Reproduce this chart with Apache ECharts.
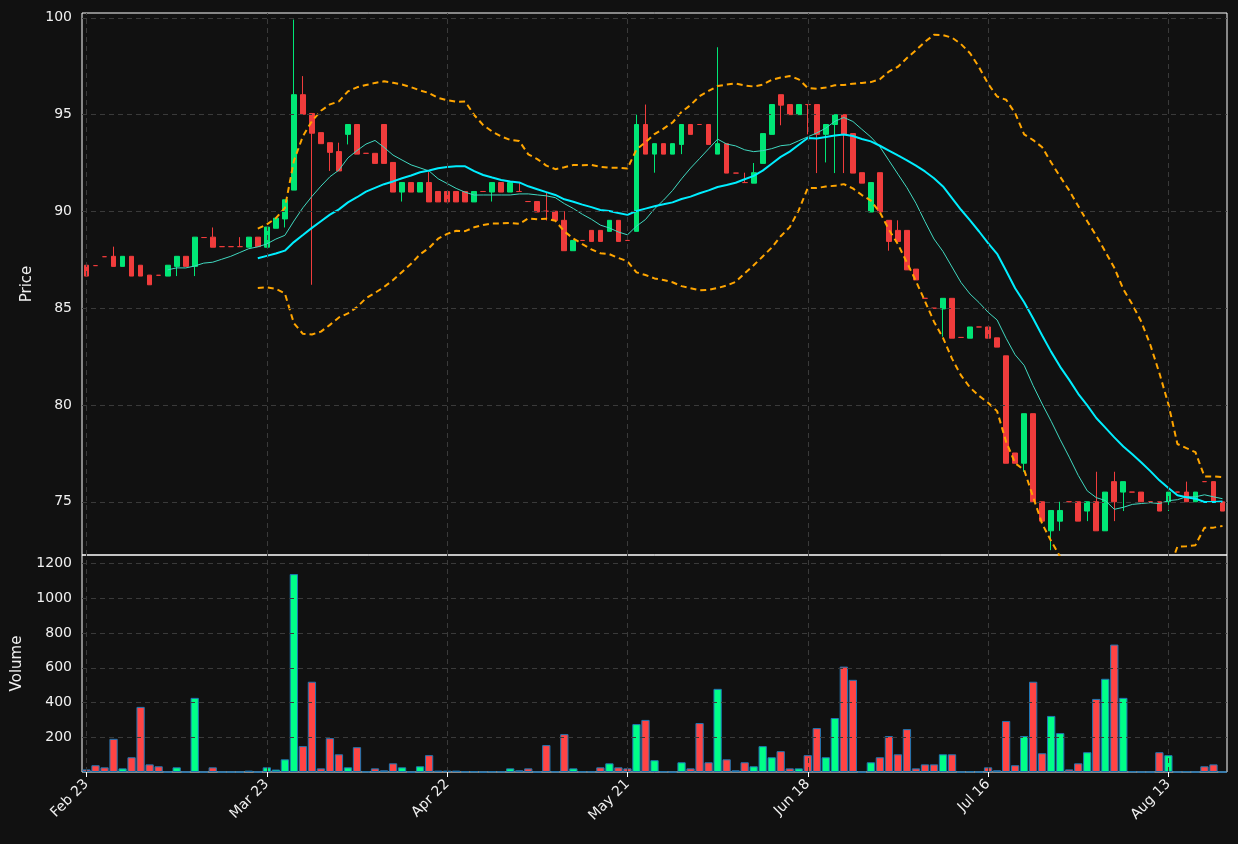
<!DOCTYPE html>
<html style="height: 100%">
<head>
  <meta charset="utf-8">
  <title>Candles with volume</title>
  <script src="https://cdn.jsdelivr.net/npm/echarts@6/dist/echarts.min.js"></script>
</head>
<body style="margin: 0; height: 100%; background: #111111">
  <div id="main" style="width: 1238px; height: 844px"></div>
  <script>
    // x tick labels, one every 20 sessions
    const tickLabels = ['Feb 23', 'Mar 23', 'Apr 22', 'May 21', 'Jun 18', 'Jul 16', 'Aug 13'];

    const opens = [87.22,87.2,87.66,87.68,87.16,87.68,87.22,86.71,86.7,86.66,87.16,87.68,87.16,88.65,88.67,88.18,88.18,88.18,88.15,88.67,
      88.15,89.13,89.61,91.1,96.03,95.06,94.07,93.55,93.09,93.98,94.49,93.0,93.0,94.49,92.53,91.0,91.49,91.0,91.49,91.03,
      91.03,91.03,91.03,90.49,91.03,91.0,91.49,91.0,91.03,90.51,90.51,90.01,90.01,89.54,87.97,88.5,89.02,89.02,88.97,89.54,
      88.5,88.97,94.49,92.96,93.5,92.96,93.46,94.49,94.49,94.49,92.96,93.5,91.98,91.49,91.46,92.48,93.98,96.03,95.52,95.0,
      95.52,95.52,93.98,94.49,95.0,94.02,92.0,89.97,92.0,89.54,89.02,89.02,87.02,85.51,85.0,84.96,85.51,83.49,83.45,84.03,
      84.03,83.47,82.54,77.52,76.99,79.55,75.0,73.5,74.0,75.0,75.0,74.52,75.0,73.5,76.04,75.5,75.5,75.5,75.0,75.0,
      75.0,75.5,75.5,75.0,76.04,76.04,75.0];
    const closes = [86.66,87.2,87.66,87.16,87.68,86.66,86.66,86.21,86.7,87.22,87.68,87.16,88.67,88.65,88.15,88.18,88.18,88.18,88.67,88.18,
      89.19,89.65,90.6,96.03,95.02,94.04,93.5,93.05,92.09,94.49,92.96,93.0,92.48,92.48,91.0,91.49,91.0,91.49,90.49,90.49,
      90.49,90.49,90.49,91.03,91.03,91.49,91.0,91.49,91.03,90.51,89.97,90.01,89.53,87.97,88.5,88.5,88.45,88.45,89.54,88.45,
      88.5,94.49,92.96,93.5,92.96,93.5,94.49,93.98,94.49,93.46,93.5,91.98,91.98,91.49,92.0,94.02,95.52,95.49,95.0,95.52,
      95.52,93.98,94.49,95.0,93.98,91.98,91.46,91.49,89.97,88.45,88.45,86.98,86.46,85.51,85.0,85.51,83.45,83.49,84.03,84.03,
      83.45,82.99,76.99,76.99,79.55,75.0,74.0,74.55,74.55,75.0,74.0,75.0,73.5,75.5,75.0,76.04,75.5,75.0,75.0,74.52,
      75.5,75.5,75.0,75.5,76.04,75.0,74.52];
    const highs = [87.22,87.2,87.66,88.18,87.68,87.68,87.22,86.71,86.7,87.22,87.68,87.68,88.67,88.65,89.17,88.18,88.18,88.67,88.67,88.67,
      89.19,89.65,90.6,99.91,96.99,95.06,94.07,93.55,93.55,94.49,94.49,93.0,93.0,94.49,92.53,91.49,91.49,91.49,92.03,91.03,
      91.03,91.03,91.03,91.03,91.03,91.49,91.49,91.49,91.49,90.51,90.51,91.0,90.01,90.01,88.5,88.5,89.02,89.02,89.54,89.54,
      88.5,95.0,95.52,93.5,93.5,93.5,94.49,94.49,94.49,94.49,98.48,93.5,91.98,92.0,92.5,94.02,95.52,96.03,95.52,95.52,
      95.52,95.52,94.49,95.0,95.0,94.02,92.0,91.49,92.0,89.54,89.54,89.02,87.02,85.51,85.0,85.51,85.51,83.49,84.03,84.03,
      84.03,83.47,82.54,77.52,79.55,79.55,75.0,74.55,75.0,75.0,75.0,75.0,76.55,75.5,76.55,76.04,75.5,75.5,75.0,75.0,
      75.5,75.5,76.04,75.5,76.04,76.04,75.0];
    const lows = [86.66,87.2,87.66,87.16,87.16,86.66,86.66,86.21,86.7,86.66,86.66,87.16,86.66,88.65,88.15,88.18,88.18,88.18,88.15,88.18,
      88.15,89.13,89.17,91.1,95.02,86.21,93.5,92.09,92.09,93.46,92.96,93.0,92.48,92.48,91.0,90.51,91.0,91.0,90.49,90.49,
      90.49,90.49,90.49,90.49,91.03,90.51,91.0,91.0,91.03,90.51,89.97,89.53,89.53,87.97,87.97,88.5,88.45,88.45,88.97,88.45,
      88.5,88.97,92.96,92.0,92.96,92.96,92.96,93.98,94.49,93.46,92.96,91.98,91.98,91.49,91.46,92.48,93.98,94.45,95.0,95.0,
      93.98,91.98,92.53,91.98,91.98,91.98,91.46,89.97,89.97,87.97,88.45,86.98,86.46,85.51,85.0,83.53,83.45,83.49,83.45,84.03,
      83.45,82.99,76.99,76.99,76.55,75.0,74.0,72.5,73.5,75.0,74.0,74.0,73.5,73.5,74.0,74.52,75.5,75.0,75.0,74.52,
      74.52,75.5,75.0,75.0,76.04,75.0,74.52];
    const volumes = [15,39,27,191,21,85,375,44,33,0,27,0,427,0,27,0,0,0,8,0,
      27,14,73,1140,149,520,21,195,102,27,143,3,21,10,50,27,0,33,97,8,
      8,8,3,3,0,3,3,21,10,21,0,155,3,218,21,3,3,27,50,27,
      21,276,300,68,3,0,56,21,282,56,479,73,10,56,33,149,85,120,21,21,
      97,253,85,311,607,531,0,56,85,207,102,247,21,44,44,102,102,0,3,0,
      27,10,294,39,207,520,108,323,224,15,50,114,421,537,734,427,3,0,0,114,
      97,0,3,0,33,44,0];

    const UP = '#00e676', DOWN = '#f03c3c';
    const VUP = '#00ff88', VDOWN = '#ff4444';

    const cats = closes.map((_, i) => i);
    const isUp = i => closes[i] > opens[i];

    function sma(period) {
      return closes.map((_, i) => {
        if (i < period - 1) return '-';
        let s = 0;
        for (let k = i - period + 1; k <= i; k++) s += closes[k];
        return +(s / period).toFixed(3);
      });
    }
    function band(period, mult) {
      return closes.map((_, i) => {
        if (i < period - 1) return '-';
        const w = closes.slice(i - period + 1, i + 1);
        const m = w.reduce((a, b) => a + b, 0) / period;
        const sd = Math.sqrt(w.reduce((a, b) => a + (b - m) * (b - m), 0) / (period - 1));
        return +(m + mult * sd).toFixed(3);
      });
    }

    const candleData = cats.map(i => {
      const c = isUp(i) ? UP : DOWN;
      return {
        value: [opens[i], closes[i], lows[i], highs[i]],
        itemStyle: { color: c, color0: c, borderColor: c, borderColor0: c }
      };
    });
    const volData = cats.map(i => ({
      value: volumes[i],
      itemStyle: { color: isUp(i) ? VUP : VDOWN }
    }));

    const gridLine = { color: '#3a3a3a', type: [5, 4], width: 1 };
    const vLines = tickLabels.map((_, k) => ({ xAxis: k * 20 }));
    const font = { color: '#f0f0f0', fontSize: 14, fontFamily: 'DejaVu Sans' };

    const chart = echarts.init(document.getElementById('main'));
    chart.setOption({
      backgroundColor: '#111111',
      animation: false,
      grid: [
        { left: 82, right: 11, top: 13, height: 542, show: true, borderColor: '#ffffff', borderWidth: 1, backgroundColor: 'transparent' },
        { left: 82, right: 11, top: 555, height: 217, show: true, borderColor: '#ffffff', borderWidth: 1, backgroundColor: 'transparent' }
      ],
      xAxis: [
        { type: 'category', gridIndex: 0, data: cats, boundaryGap: true,
          axisLine: { show: false }, axisTick: { show: false }, axisLabel: { show: false }, splitLine: { show: false } },
        { type: 'category', gridIndex: 1, data: cats, boundaryGap: true,
          axisLine: { show: false },
          axisTick: { show: true, interval: 19, alignWithLabel: true, length: 5, lineStyle: { color: '#ffffff' } },
          axisLabel: Object.assign({ interval: 19, rotate: 45, margin: 10,
            formatter: (v, idx) => tickLabels[idx / 20] || '' }, font),
          splitLine: { show: false } }
      ],
      yAxis: [
        { type: 'value', gridIndex: 0, min: 72.25, max: 100.25, interval: 0.25,
          name: 'Price', nameLocation: 'middle', nameGap: 46, nameRotate: 90,
          nameTextStyle: Object.assign({}, font, { fontSize: 15 }),
          axisLine: { show: false }, axisTick: { show: false }, splitLine: { show: false },
          axisLabel: Object.assign({ margin: 10,
            formatter: v => (Math.abs(v % 5) < 1e-6 ? String(v) : '') }, font) },
        { type: 'value', gridIndex: 1, min: 0, max: 1250, interval: 50,
          name: 'Volume', nameLocation: 'middle', nameGap: 57, nameRotate: 90,
          nameTextStyle: Object.assign({}, font, { fontSize: 15 }),
          axisLine: { show: false }, axisTick: { show: false }, splitLine: { show: false },
          axisLabel: Object.assign({ margin: 10,
            formatter: v => (v > 0 && v % 200 === 0 ? String(v) : '') }, font) }
      ],
      series: [
        { name: 'OHLC', type: 'candlestick', xAxisIndex: 0, yAxisIndex: 0, barWidth: '58%',
          data: candleData,
          markLine: { silent: true, symbol: 'none', label: { show: false }, lineStyle: gridLine, animation: false,
            data: [75, 80, 85, 90, 95, 100].map(v => ({ yAxis: v })).concat(vLines) } },
        { name: 'SMA 10', type: 'line', data: sma(10), showSymbol: false, symbol: 'none',
          lineStyle: { color: '#40d8c0', width: 1 }, z: 3 },
        { name: 'SMA 20', type: 'line', data: sma(20), showSymbol: false, symbol: 'none',
          lineStyle: { color: '#00eeff', width: 2 }, z: 3 },
        { name: 'BB upper', type: 'line', data: band(20, 2), showSymbol: false, symbol: 'none',
          lineStyle: { color: '#ffa500', width: 2, type: [6, 4] }, z: 3 },
        { name: 'BB lower', type: 'line', data: band(20, -2), showSymbol: false, symbol: 'none',
          lineStyle: { color: '#ffa500', width: 2, type: [6, 4] }, z: 3 },
        { name: 'Volume', type: 'bar', xAxisIndex: 1, yAxisIndex: 1, barWidth: '92%', data: volData,
          itemStyle: { borderColor: '#1f77b4', borderWidth: 1 },
          markLine: { silent: true, symbol: 'none', label: { show: false }, lineStyle: gridLine, animation: false,
            data: [200, 400, 600, 800, 1000, 1200].map(v => ({ yAxis: v })).concat(vLines) } }
      ]
    });
  </script>
</body>
</html>
